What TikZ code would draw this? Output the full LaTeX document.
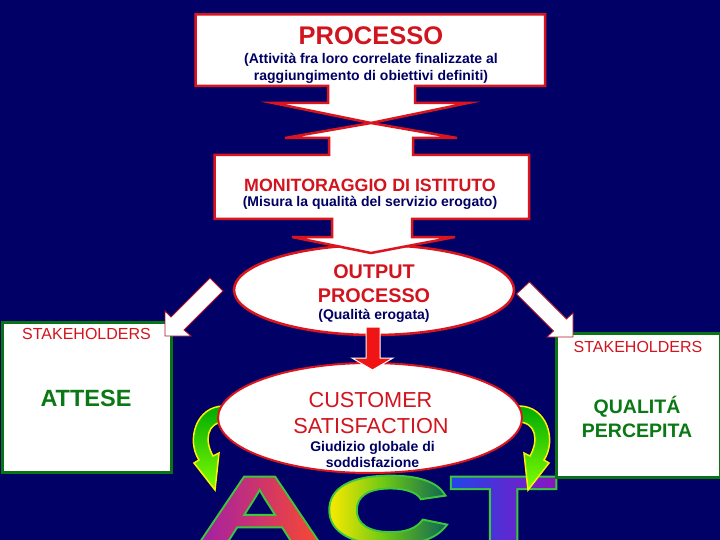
\documentclass[tikz,border=0pt]{standalone}
\usepackage{fontspec}
\setmainfont{Liberation Sans}
\newfontfamily\actfont[FakeStretch=1.85]{Liberation Sans Bold}
\usetikzlibrary{shapes.geometric}
\definecolor{bgnavy}{RGB}{0,0,102}
\definecolor{boxred}{RGB}{220,20,30}
\definecolor{txtred}{RGB}{210,20,30}
\definecolor{txtnavy}{RGB}{0,0,100}
\definecolor{boxgreen}{RGB}{10,115,20}
\definecolor{txtgreen}{RGB}{10,120,20}
\definecolor{arrred}{RGB}{170,20,40}
\definecolor{fillred}{RGB}{240,20,20}
\definecolor{actAa}{RGB}{160,30,170}
\definecolor{actAb}{RGB}{250,75,45}
\definecolor{actCa}{RGB}{255,235,0}
\definecolor{actCb}{RGB}{110,200,20}
\definecolor{actCc}{RGB}{20,110,80}
\definecolor{actTa}{RGB}{30,70,235}
\definecolor{actTb}{RGB}{140,20,190}
\definecolor{actline}{RGB}{60,200,60}
\definecolor{curvdark}{RGB}{0,170,0}
\definecolor{curvlight}{RGB}{130,255,0}
\pgfdeclarehorizontalshading{actshade}{100bp}{color(0bp)=(actAa); color(25bp)=(actAa); color(42.5bp)=(actAb); color(43.2bp)=(actCa); color(51bp)=(actCb); color(59bp)=(actCc); color(59.7bp)=(actTa); color(75bp)=(actTb); color(100bp)=(actTb)}
\newsavebox\actbox
\newcommand\actletters{%
  \sbox\actbox{\actfont\fontsize{95}{95}\selectfont ACT}%
  \special{pdf:literal direct 5 Tr 4 w 0.24 0.78 0.24 RG}\usebox\actbox\special{pdf:literal direct 0 Tr}%
  \llap{\tikz[baseline=0pt]\shade[shading=actshade] (0pt,-\dp\actbox) rectangle (\wd\actbox,\ht\actbox);}%
}
\begin{document}
\begin{tikzpicture}[x=1pt,y=-1pt,
  callout/.style={fill=white, draw=boxred, line width=2.5pt},
  oval/.style={ellipse, fill=white, draw=boxred, line width=2.5pt, inner sep=0pt},
  stakebox/.style={fill=white, draw=boxgreen, line width=3pt},
  whitearrow/.style={fill=white, draw=arrred, line width=0.8pt},
  curvearrow/.style={top color=curvdark, bottom color=curvlight, draw=yellow, line width=1.5pt},
  lbl/.style={anchor=base, inner sep=0pt},
  redtitle/.style={lbl, text=txtred, font=\bfseries\fontsize{#1}{#1}\selectfont},
  navysub/.style={lbl, text=txtnavy, font=\bfseries\fontsize{14}{16}\selectfont},
  greentitle/.style={lbl, text=txtgreen, font=\bfseries\fontsize{#1}{#1}\selectfont},
  stakelbl/.style={lbl, text=txtred, font=\fontsize{16}{18}\selectfont}]
\useasboundingbox (0,0) rectangle (720,540);
\fill[bgnavy] (0,0) rectangle (720,540);

% ACT letters: outlined text, gradient clipped to the glyphs
\node[anchor=base west, inner sep=0pt, text=actline] (act) at (196,543) {\actletters};

% curved arrows
\path[curvearrow] (224,406) .. controls (196,406) and (186,440) .. (199,460) -- (194,463) -- (215,490) -- (219,453) -- (213,456) .. controls (204,440) and (207,422) .. (225,422) -- cycle;
\path[curvearrow] (519,406) .. controls (547,406) and (557,440) .. (544,460) -- (549,463) -- (528,490) -- (524,453) -- (530,456) .. controls (539,440) and (536,422) .. (518,422) -- cycle;

% top callout
\path[callout] (195.5,14.5) -- (545,14.5) -- (545,86) -- (415,86) -- (415,103) -- (468,103) -- (371,123) -- (273,103) -- (328,103) -- (328,86) -- (195.5,86) -- cycle;

% output ellipse
\node[oval, minimum width=280pt, minimum height=90pt] (outoval) at (374,290) {};

% monitoring callout
\path[callout] (214.5,155) -- (329,155) -- (329,138) -- (285,138) -- (371,123) -- (457,138) -- (413,138) -- (413,155) -- (529,155) -- (529,219) -- (412,219) -- (412,237) -- (455,237) -- (371,253) -- (292,237) -- (332,237) -- (332,219) -- (214.5,219) -- cycle;

% customer ellipse
\node[oval, line width=2pt, minimum width=304pt, minimum height=110pt] (custoval) at (370,418) {};

% stakeholder boxes
\draw[stakebox] (2.5,322.5) rectangle (171.5,472.5);
\draw[stakebox] (556.5,333.5) rectangle (720,477);

% white diagonal arrows
\path[whitearrow] (165,336) -- (165,311) -- (171,317) -- (210,278) -- (223,291) -- (184,330) -- (191,336) -- cycle;
\path[whitearrow] (573,337) -- (573,313) -- (566.5,319) -- (529.5,282) -- (516.5,294) -- (553.5,331) -- (547,337) -- cycle;

% red arrow
\path[fill=fillred, draw=white, line width=1pt] (366,327) -- (380,327) -- (380,358) -- (393,358) -- (372.5,370) -- (352,358) -- (366,358) -- cycle;

% texts
\node[redtitle=25.5] (tproc) at (371,45) {PROCESSO};
\node[navysub] (tproca) at (371,64) {(Attività fra loro correlate finalizzate al};
\node[navysub] (tprocb) at (371,80.5) {raggiungimento di obiettivi definiti)};

\node[redtitle=17.8] (tmon) at (370,192) {MONITORAGGIO DI ISTITUTO};
\node[navysub] (tmona) at (370,207) {(Misura la qualità del servizio erogato)};

\node[redtitle=19.8] (tout) at (374,278) {OUTPUT};
\node[redtitle=19.8] (toutb) at (374,302) {PROCESSO};
\node[navysub] (toutc) at (374,319) {(Qualità erogata)};

\node[lbl, text=txtred, font=\fontsize{21.7}{24}\selectfont] (tcust) at (370.5,407) {CUSTOMER};
\node[lbl, text=txtred, font=\fontsize{21.7}{24}\selectfont] (tcustb) at (371,433) {SATISFACTION};
\node[navysub] (tcustc) at (372.5,451.5) {Giudizio globale di};
\node[navysub] (tcustd) at (372.5,467) {soddisfazione};

\node[stakelbl] (tstl) at (86.5,339) {STAKEHOLDERS};
\node[greentitle=23.5] (tatt) at (86,406) {ATTESE};

\node[stakelbl] (tstr) at (638,352) {STAKEHOLDERS};
\node[greentitle=19.5] (tqual) at (637,413) {QUALITÁ};
\node[greentitle=19.5] (tperc) at (637,437) {PERCEPITA};
\end{tikzpicture}
\end{document}
